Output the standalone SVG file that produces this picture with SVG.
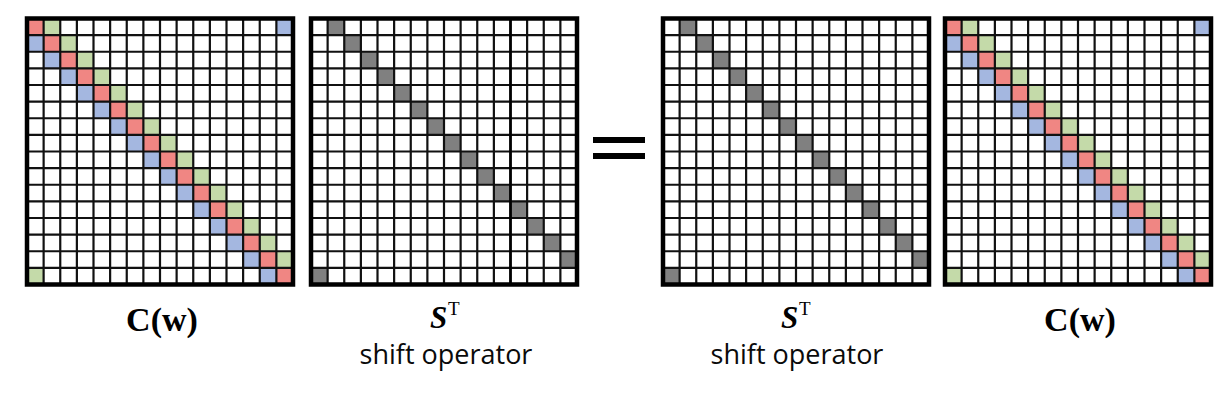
<svg xmlns="http://www.w3.org/2000/svg" xmlns:xlink="http://www.w3.org/1999/xlink" width="1220" height="406" viewBox="0 0 1220 406">
<style>
.r{fill:#F08683}
.g{fill:#C4DAA9}
.b{fill:#A4B7E0}
.k{fill:#808080}
.bg{fill:#fff}
.grid{fill:none;stroke:#111;stroke-width:2.2;vector-effect:non-scaling-stroke}
.thick{fill:none;stroke:#000;stroke-width:2.6;vector-effect:non-scaling-stroke}
.frame{fill:none;stroke:#000;stroke-width:4.5;vector-effect:non-scaling-stroke}
.lab{font-family:"Liberation Serif","DejaVu Serif",serif;font-weight:bold;font-size:34px;fill:#000}
.sym{font-family:"Liberation Serif","DejaVu Serif",serif;font-weight:bold;font-style:italic;font-size:31px;fill:#000}
.sup{font-family:"Liberation Serif","DejaVu Serif",serif;font-size:19px;fill:#000}
.sub{font-family:"Open Sans","Noto Sans",sans-serif;font-size:27px;fill:#0a0a0a}
.eq{fill:#000}
</style>
<defs>
<path id="gridlines" class="grid" d="M1 0V16M2 0V16M3 0V16M4 0V16M5 0V16M6 0V16M7 0V16M8 0V16M9 0V16M10 0V16M11 0V16M12 0V16M13 0V16M14 0V16M15 0V16M0 1H16M0 2H16M0 3H16M0 4H16M0 5H16M0 6H16M0 7H16M0 8H16M0 9H16M0 10H16M0 11H16M0 12H16M0 13H16M0 14H16M0 15H16"/>
<g id="circ">
<path class="r" d="M0 0h1v1h-1zM1 1h1v1h-1zM2 2h1v1h-1zM3 3h1v1h-1zM4 4h1v1h-1zM5 5h1v1h-1zM6 6h1v1h-1zM7 7h1v1h-1zM8 8h1v1h-1zM9 9h1v1h-1zM10 10h1v1h-1zM11 11h1v1h-1zM12 12h1v1h-1zM13 13h1v1h-1zM14 14h1v1h-1zM15 15h1v1h-1z"/>
<path class="g" d="M1 0h1v1h-1zM2 1h1v1h-1zM3 2h1v1h-1zM4 3h1v1h-1zM5 4h1v1h-1zM6 5h1v1h-1zM7 6h1v1h-1zM8 7h1v1h-1zM9 8h1v1h-1zM10 9h1v1h-1zM11 10h1v1h-1zM12 11h1v1h-1zM13 12h1v1h-1zM14 13h1v1h-1zM15 14h1v1h-1zM0 15h1v1h-1z"/>
<path class="b" d="M15 0h1v1h-1zM0 1h1v1h-1zM1 2h1v1h-1zM2 3h1v1h-1zM3 4h1v1h-1zM4 5h1v1h-1zM5 6h1v1h-1zM6 7h1v1h-1zM7 8h1v1h-1zM8 9h1v1h-1zM9 10h1v1h-1zM10 11h1v1h-1zM11 12h1v1h-1zM12 13h1v1h-1zM13 14h1v1h-1zM14 15h1v1h-1z"/>
</g>
<g id="shift">
<path class="k" d="M1 0h1v1h-1zM2 1h1v1h-1zM3 2h1v1h-1zM4 3h1v1h-1zM5 4h1v1h-1zM6 5h1v1h-1zM7 6h1v1h-1zM8 7h1v1h-1zM9 8h1v1h-1zM10 9h1v1h-1zM11 10h1v1h-1zM12 11h1v1h-1zM13 12h1v1h-1zM14 13h1v1h-1zM15 14h1v1h-1zM0 15h1v1h-1z"/>
</g>
</defs>

<g id="matrix-C-left" transform="translate(27,18.5) scale(16.625)">
<rect class="bg" width="16" height="16"/>
<use xlink:href="#circ" href="#circ"/>
<use xlink:href="#gridlines" href="#gridlines"/>
<rect class="frame" width="16" height="16"/>
</g>

<g id="matrix-S-left" transform="translate(311,18.5) scale(16.625)">
<rect class="bg" width="16" height="16"/>
<use xlink:href="#shift" href="#shift"/>
<use xlink:href="#gridlines" href="#gridlines"/>
<path class="thick" d="M12 0V16"/>
<rect class="frame" width="16" height="16"/>
</g>

<g id="equals">
<rect class="eq" x="593" y="137" width="52" height="6"/>
<rect class="eq" x="593" y="153" width="52" height="6"/>
</g>

<g id="matrix-S-right" transform="translate(663,18.5) scale(16.625)">
<rect class="bg" width="16" height="16"/>
<use xlink:href="#shift" href="#shift"/>
<use xlink:href="#gridlines" href="#gridlines"/>
<rect class="frame" width="16" height="16"/>
</g>

<g id="matrix-C-right" transform="translate(945,18.5) scale(16.625)">
<rect class="bg" width="16" height="16"/>
<use xlink:href="#circ" href="#circ"/>
<use xlink:href="#gridlines" href="#gridlines"/>
<rect class="frame" width="16" height="16"/>
</g>

<g id="labels">
<text class="lab" x="162" y="331" text-anchor="middle">C(w)</text>
<text class="sym" x="430" y="328">S</text>
<text class="sup" x="448" y="315">T</text>
<text class="sub" x="446" y="364" text-anchor="middle">shift operator</text>
<text class="sym" x="781" y="328">S</text>
<text class="sup" x="799" y="315">T</text>
<text class="sub" x="797" y="364" text-anchor="middle">shift operator</text>
<text class="lab" x="1080" y="331" text-anchor="middle">C(w)</text>
</g>
</svg>
